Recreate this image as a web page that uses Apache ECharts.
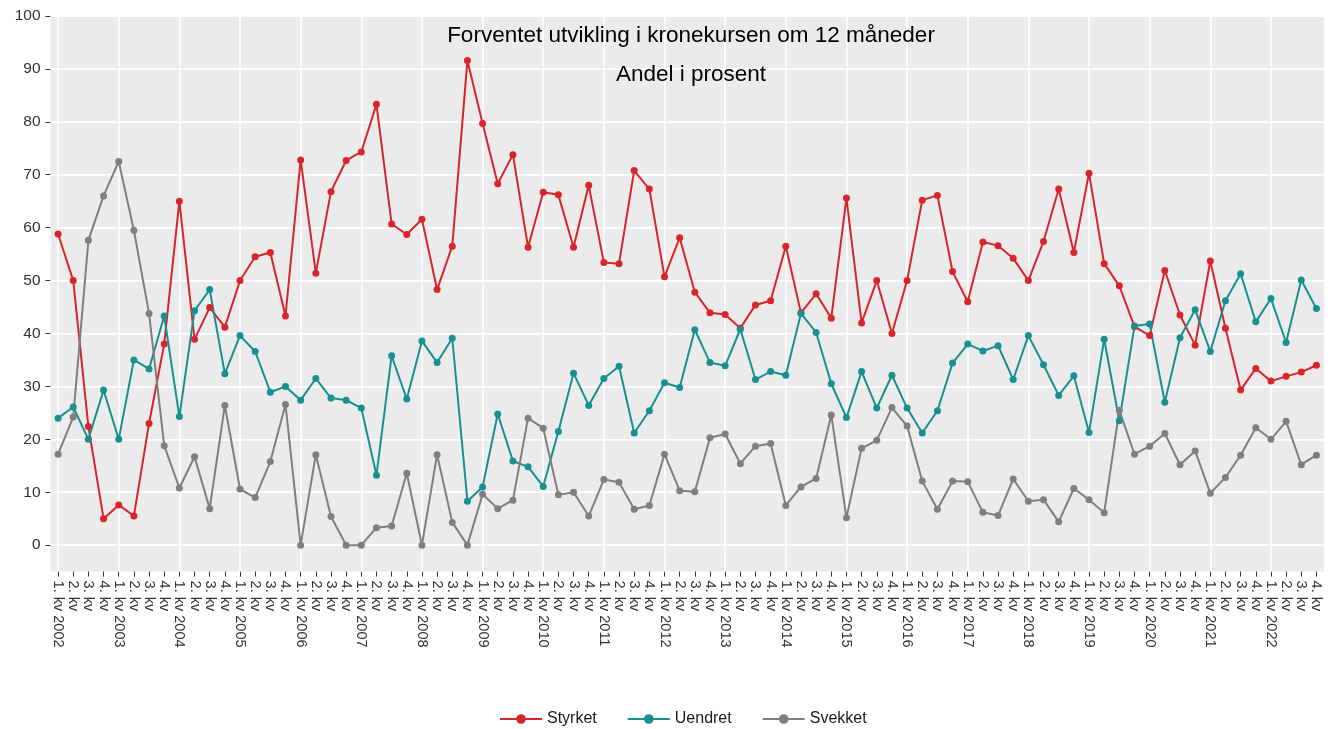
<!DOCTYPE html>
<html>
<head>
<meta charset="utf-8">
<script src="https://cdn.jsdelivr.net/npm/echarts@6/dist/echarts.min.js"></script>
<style>
html,body{margin:0;padding:0;background:#fff;}
#chart{width:1333px;height:729px;}
</style>
</head>
<body>
<div id="chart"></div>
<script>
var years = [2002,2003,2004,2005,2006,2007,2008,2009,2010,2011,2012,2013,2014,2015,2016,2017,2018,2019,2020,2021,2022];
var quarterLabels = ['1. kv', '2. kv', '3. kv', '4. kv'];
var yTicks = [0,10,20,30,40,50,60,70,80,90,100];

var styrket = [58.8,50.0,22.4,5.0,7.6,5.5,23.0,38.0,65.0,38.9,44.9,41.2,50.0,54.5,55.3,43.3,72.8,51.4,66.8,72.7,74.3,83.3,60.7,58.7,61.6,48.3,56.5,91.6,79.7,68.3,73.8,56.3,66.7,66.2,56.3,68.0,53.4,53.2,70.8,67.3,50.7,58.1,47.8,43.9,43.6,41.0,45.4,46.2,56.5,43.9,47.5,42.9,65.6,42.0,50.0,40.0,50.0,65.2,66.1,51.7,46.0,57.3,56.6,54.2,50.0,57.4,67.3,55.3,70.3,53.2,49.0,41.3,39.6,51.9,43.5,37.8,53.7,41.0,29.3,33.4,31.0,31.9,32.7,34.0];
var uendret = [24.0,26.1,20.0,29.3,20.0,35.0,33.3,43.3,24.3,44.3,48.3,32.4,39.6,36.6,28.9,30.0,27.4,31.5,27.8,27.4,25.9,13.2,35.8,27.6,38.6,34.5,39.1,8.3,11.0,24.8,15.9,14.8,11.1,21.5,32.5,26.4,31.5,33.8,21.2,25.4,30.7,29.8,40.7,34.5,33.9,40.8,31.3,32.8,32.1,43.8,40.2,30.5,24.1,32.8,25.9,32.1,25.9,21.2,25.4,34.4,38.0,36.7,37.7,31.3,39.6,34.1,28.3,32.0,21.3,38.9,23.5,41.4,41.8,27.0,39.2,44.5,36.6,46.2,51.3,42.2,46.6,38.3,50.1,44.7];
var svekket = [17.2,24.2,57.6,66.0,72.5,59.5,43.8,18.8,10.8,16.7,6.9,26.4,10.6,9.0,15.8,26.6,0,17.1,5.4,0,0,3.3,3.6,13.6,0,17.1,4.3,0,9.6,6.9,8.5,24.0,22.1,9.5,10.0,5.5,12.4,11.9,6.8,7.5,17.2,10.3,10.1,20.3,21.0,15.4,18.7,19.2,7.5,11.0,12.6,24.6,5.2,18.3,19.8,26.0,22.5,12.1,6.8,12.1,12.0,6.2,5.6,12.5,8.3,8.6,4.4,10.7,8.6,6.1,25.5,17.2,18.7,21.1,15.2,17.8,9.8,12.8,17.0,22.2,20.0,23.4,15.2,17.0];

// unique category keys: "<quarter>|<year>"; label shows year only on 1st quarter
var categories = [];
years.forEach(function (y) {
  quarterLabels.forEach(function (q) { categories.push(q + '|' + y); });
});
function labelOf(c) {
  var p = c.split('|');
  return p[0] === quarterLabels[0] ? p[0] + ' ' + p[1] : p[0];
}
var yearStarts = categories.filter(function (c, i) { return i % 4 === 0; });

var FONT = '"Liberation Sans", Arial, sans-serif';
var chart = echarts.init(document.getElementById('chart'));
chart.setOption({
  animation: false,
  backgroundColor: '#ffffff',
  title: [
    { text: 'Forventet utvikling i kronekursen om 12 måneder', left: 686, top: 19, textAlign: 'center',
      textStyle: { fontFamily: FONT, fontSize: 22.5, fontWeight: 'normal', color: '#000' } },
    { text: 'Andel i prosent', left: 686, top: 58, textAlign: 'center',
      textStyle: { fontFamily: FONT, fontSize: 22.5, fontWeight: 'normal', color: '#000' } }
  ],
  legend: {
    data: ['Styrket', 'Uendret', 'Svekket'],
    left: 494, top: 706, itemWidth: 42, itemHeight: 12, itemGap: 30,
    textStyle: { fontFamily: FONT, fontSize: 16, color: '#1a1a1a' }
  },
  grid: { left: 50.5, right: 9, top: 16, bottom: 157.4, show: true, backgroundColor: '#EBEBEB', borderWidth: 0 },
  xAxis: {
    type: 'category', data: categories, boundaryGap: true,
    axisLine: { show: false, onZero: false },
    axisTick: { show: true, alignWithLabel: true, interval: 0, length: 5, lineStyle: { color: '#333', width: 1 } },
    axisLabel: { interval: 0, rotate: -90, margin: 9, fontFamily: FONT, fontSize: 14.5, color: '#333',
      formatter: function (v) { return labelOf(v); } },
    splitLine: { show: false }
  },
  yAxis: {
    type: 'value', min: -5, max: 100, interval: 5,
    axisLine: { show: false },
    axisTick: { show: true, length: 5, customValues: yTicks, lineStyle: { color: '#333', width: 1 } },
    axisLabel: { customValues: yTicks, margin: 10, fontFamily: FONT, fontSize: 15.5, color: '#333' },
    splitLine: { show: true, lineStyle: { color: '#ffffff', width: 0.8 } }
  },
  series: [
    {
      name: 'grid', type: 'line', data: [], z: 1, silent: true,
      markLine: {
        silent: true, symbol: 'none', label: { show: false }, animation: false, z: 1,
        lineStyle: { color: '#ffffff', width: 1.6, type: 'solid' },
        emphasis: { disabled: true },
        data: yTicks.map(function (v) { return { yAxis: v }; })
          .concat(yearStarts.map(function (c) { return { xAxis: c }; }))
      }
    },
    { name: 'Styrket', type: 'line', data: styrket, z: 3, symbol: 'circle', symbolSize: 7,
      color: '#D7252B', lineStyle: { width: 2 } },
    { name: 'Uendret', type: 'line', data: uendret, z: 3, symbol: 'circle', symbolSize: 7,
      color: '#17908F', lineStyle: { width: 2 } },
    { name: 'Svekket', type: 'line', data: svekket, z: 3, symbol: 'circle', symbolSize: 7,
      color: '#7F7F7F', lineStyle: { width: 2 } }
  ]
});
</script>
</body>
</html>
